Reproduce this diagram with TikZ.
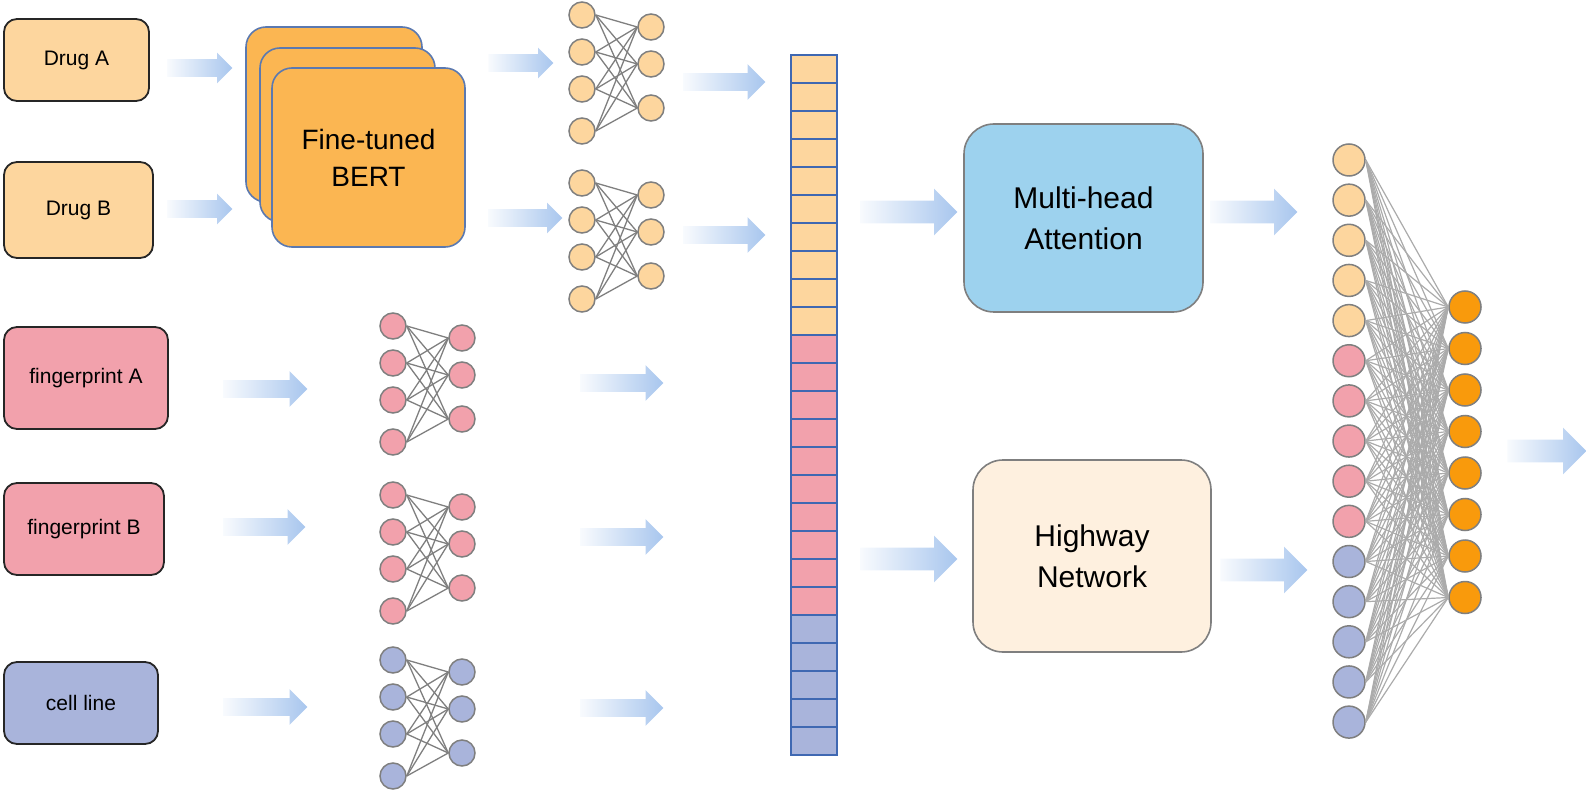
\documentclass[tikz,border=0pt]{standalone}
\usepackage{fontspec}
\setmainfont{Liberation Sans}
\usetikzlibrary{shapes.arrows}

\definecolor{drugfill}{HTML}{FDD69E}
\definecolor{fpfill}{HTML}{F2A1AC}
\definecolor{cellfill}{HTML}{A9B4DB}
\definecolor{bertfill}{HTML}{FBB652}
\definecolor{bertdraw}{HTML}{5B79B0}
\definecolor{mhfill}{HTML}{9DD2EE}
\definecolor{hwfill}{HTML}{FEF0DF}
\definecolor{outfill}{HTML}{F99A0C}
\definecolor{vecdraw}{HTML}{3F68B2}
\definecolor{arrowblue}{HTML}{8BB3E8}
\definecolor{netgrey}{HTML}{7F7F7F}
\definecolor{linkgrey}{HTML}{ABABAB}

\tikzset{
    inbox/.style={draw=black!85, line width=0.9pt, rounded corners=6.5pt,
        font=\fontsize{10.5}{12.6}\selectfont},
    bertbox/.style={draw=bertdraw, fill=bertfill, line width=0.8pt, rounded corners=10pt,
        align=center, font=\fontsize{14}{18.5}\selectfont},
    bigbox/.style={draw=netgrey, line width=0.8pt, rounded corners=15pt, align=center,
        font=\fontsize{15}{20.5}\selectfont},
    neuron/.style={circle, draw=netgrey, line width=0.75pt, minimum size=13pt, inner sep=0pt},
    bigneuron/.style={neuron, minimum size=16pt},
    link/.style={draw=netgrey, line width=0.65pt},
    denselink/.style={draw=linkgrey, line width=0.6pt},
    cellbox/.style={draw=vecdraw, line width=0.8pt, minimum width=23pt, minimum height=14pt, inner sep=0pt},
    flow/.style={single arrow, draw=none, anchor=tail, inner xsep=0pt, minimum width=0pt,
        left color=arrowblue!6, middle color=arrowblue!95, right color=arrowblue!75},
    smallflow/.style={flow, inner ysep=4.25pt, single arrow head extend=3.25pt},
    midflow/.style={flow, inner ysep=4.25pt, single arrow head extend=4.5pt},
    bigflow/.style={flow, inner ysep=5.5pt, single arrow head extend=6pt}
}

% small two-layer net: name, x, y, colour
\newcommand{\smallnet}[4]{%
    \foreach \dy [count=\k] in {0,37,74,116}
        \node[neuron, fill=#4] (#1-l\k) at (#2,#3+\dy) {};
    \foreach \dy [count=\k] in {12,49,93}
        \node[neuron, fill=#4] (#1-r\k) at (#2+69,#3+\dy) {};
    \foreach \i in {1,...,4}
        \foreach \j in {1,...,3}
            \draw[link] (#1-l\i.east) -- (#1-r\j.west);
}

\begin{document}
\begin{tikzpicture}[x=0.5pt, y=-0.5pt]
    \useasboundingbox (0,0) rectangle (1588,796);

    % inputs
    \node[inbox, fill=drugfill, minimum width=72.5pt, minimum height=41pt] (drugA) at (76.5,60) {Drug A};
    \node[inbox, fill=drugfill, minimum width=74.5pt, minimum height=48pt] (drugB) at (78.5,210) {Drug B};
    \node[inbox, fill=fpfill, minimum width=82pt, minimum height=51pt] (fpA) at (86,378) {fingerprint A};
    \node[inbox, fill=fpfill, minimum width=80pt, minimum height=46pt] (fpB) at (84,529) {fingerprint B};
    \node[inbox, fill=cellfill, minimum width=77pt, minimum height=41pt] (cellline) at (81,703) {cell line};

    % BERT stack
    \node[bertbox, minimum width=88pt, minimum height=87.5pt] (bert3) at (334,114.5) {};
    \node[bertbox, minimum width=87.5pt, minimum height=87pt] (bert2) at (347.5,135) {};
    \node[bertbox, minimum width=96.5pt, minimum height=89.5pt] (bert1) at (368.5,157.5) {Fine-tuned\\BERT};

    % small nets
    \smallnet{netA}{582}{15}{drugfill}
    \smallnet{netB}{582}{183}{drugfill}
    \smallnet{netC}{393}{326}{fpfill}
    \smallnet{netD}{393}{495}{fpfill}
    \smallnet{netE}{393}{660}{cellfill}

    % concatenated vector
    \foreach \c [count=\i] in {drugfill,drugfill,drugfill,drugfill,drugfill,drugfill,drugfill,drugfill,drugfill,drugfill,
        fpfill,fpfill,fpfill,fpfill,fpfill,fpfill,fpfill,fpfill,fpfill,fpfill,
        cellfill,cellfill,cellfill,cellfill,cellfill}
        \node[cellbox, fill=\c] (vec-\i) at (814,{55+28*(\i-0.5)}) {};

    \node[bigbox, fill=mhfill, minimum width=119.5pt, minimum height=94pt] (mha) at (1083.5,218) {Multi-head\\Attention};
    \node[bigbox, fill=hwfill, minimum width=119pt, minimum height=96pt] (highway) at (1092,556) {Highway\\Network};

    % dense layer
    \foreach \c [count=\i] in {drugfill,drugfill,drugfill,drugfill,drugfill,fpfill,fpfill,fpfill,fpfill,fpfill,
        cellfill,cellfill,cellfill,cellfill,cellfill}
        \node[bigneuron, fill=\c] (in-\i) at (1349,{160+40.15*(\i-1)}) {};
    \foreach \i in {1,...,8}
        \node[bigneuron, fill=outfill] (out-\i) at (1465,{307+41.5*(\i-1)}) {};
    \foreach \i in {1,...,15}
        \foreach \j in {1,...,8}
            \draw[denselink] (in-\i.east) -- (out-\j.west);

    % block arrows
    \node[smallflow, minimum height=32.5pt] (flowA) at (167,68) {};
    \node[smallflow, minimum height=32.5pt] (flowB) at (167,209) {};
    \node[smallflow, minimum height=32.5pt] (flowC) at (488,63) {};
    \node[smallflow, minimum height=37pt] (flowD) at (488,218) {};
    \node[midflow, minimum height=41pt] (flowE) at (683,82) {};
    \node[midflow, minimum height=41pt] (flowF) at (683,235) {};
    \node[midflow, minimum height=42pt] (flowG) at (223,389) {};
    \node[midflow, minimum height=41pt] (flowH) at (223,527) {};
    \node[midflow, minimum height=42pt] (flowI) at (223,707) {};
    \node[midflow, minimum height=41.5pt] (flowJ) at (580,383) {};
    \node[midflow, minimum height=41.5pt] (flowK) at (580,537) {};
    \node[midflow, minimum height=41.5pt] (flowL) at (580,708) {};
    \node[bigflow, minimum height=48.5pt] (flowM) at (860,212) {};
    \node[bigflow, minimum height=48.5pt] (flowN) at (860,559) {};
    \node[bigflow, minimum height=43.5pt] (flowO) at (1210,212) {};
    \node[bigflow, minimum height=43.5pt] (flowP) at (1220,570) {};
    \node[bigflow, minimum height=39.5pt] (flowQ) at (1507,451) {};
\end{tikzpicture}
\end{document}
